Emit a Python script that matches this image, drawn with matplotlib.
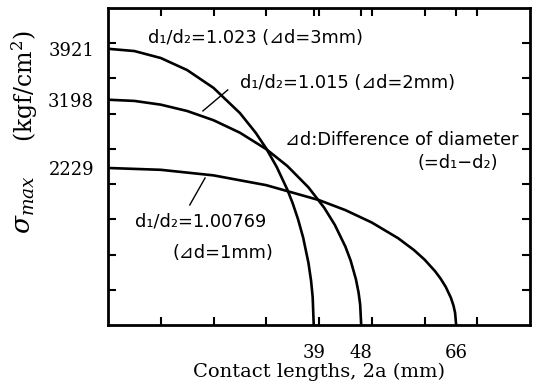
import matplotlib
matplotlib.use("Agg")
import matplotlib.pyplot as plt

# ---- data (contact length mm, sigma kgf/cm2) ----
x_3mm = [0, 5, 10, 15, 20, 25, 28, 30, 32, 34, 35, 36, 37, 38, 38.5, 38.8, 39]
y_3mm = [3921, 3889, 3790, 3619, 3366, 3009, 2729, 2505, 2241, 1921, 1730, 1508, 1240, 882, 626, 397, 0]

x_2mm = [0, 5, 10, 15, 20, 25, 30, 34, 38, 41, 43, 45, 46, 47, 47.5, 47.8, 48]
y_2mm = [3198, 3181, 3128, 3038, 2907, 2730, 2496, 2257, 1954, 1663, 1421, 1113, 914, 649, 461, 292, 0]

x_1mm = [0, 10, 20, 30, 40, 45, 50, 55, 58, 60, 62, 63, 64, 65, 65.5, 65.8, 66]
y_1mm = [2229, 2203, 2124, 1985, 1773, 1631, 1455, 1232, 1064, 929, 764, 664, 545, 387, 274, 173, 0]

sigma_labels = [2229, 3198, 3921]
length_labels = [39, 48, 66]

plt.rcParams["mathtext.fontset"] = "dejavuserif"
SANS = ["DejaVu Sans", "Noto Sans CJK JP"]
SERIF = "DejaVu Serif"

fig = plt.figure(figsize=(5.38, 3.87), dpi=100)
ax = fig.add_axes([108 / 538, 62 / 387, 422 / 538, 317 / 387])

for xs, ys in [(x_3mm, y_3mm), (x_2mm, y_2mm), (x_1mm, y_1mm)]:
    ax.plot(xs, ys, color="black", lw=1.9, solid_capstyle="butt")

ax.set_xlim(0, 80)
ax.set_ylim(0, 4500)

# major ticks: unlabeled, inward, both sides
ax.set_xticks(range(10, 80, 10))
ax.set_yticks(range(500, 4500, 500))
ax.set_xticklabels([])
ax.set_yticklabels([])
ax.tick_params(which="major", direction="in", length=6, width=1.5,
               top=True, right=True)

# minor ticks carry the labelled values
ax.set_xticks(length_labels, minor=True)
ax.set_xticklabels([str(v) for v in length_labels], minor=True)
ax.set_yticks(sigma_labels, minor=True)
ax.set_yticklabels([str(v) for v in sigma_labels], minor=True)
ax.tick_params(axis="x", which="minor", direction="in", length=6, width=1.5,
               top=True, bottom=False, pad=14, labelsize=13)
ax.tick_params(axis="y", which="minor", length=0, pad=10, labelsize=13)
for lab in ax.get_xticklabels(minor=True) + ax.get_yticklabels(minor=True):
    lab.set_fontfamily(SERIF)

for sp in ax.spines.values():
    sp.set_linewidth(2.0)

ax.set_xlabel("Contact lengths, 2a (mm)", fontfamily=SERIF, fontsize=14, labelpad=0)
fig.text(24 / 538, 1 - 205 / 387, r"$\sigma_{max}$",
         rotation=90, ha="center", va="center", fontsize=19)
fig.text(25 / 538, 1 - 86 / 387, r"(kgf/cm$^2$)",
         rotation=90, ha="center", va="center", fontfamily=SERIF, fontsize=17)

# annotations
fs = 12.8
ax.text(7.6, 4075, "d₁/d₂=1.023 (⊿d=3mm)", family=SANS, fontsize=fs, va="center")
ax.text(25.0, 3436, "d₁/d₂=1.015 (⊿d=2mm)", family=SANS, fontsize=fs, va="center")
ax.plot([18.0, 22.7], [3039, 3337], color="black", lw=1.0)
ax.text(33.6, 2627, "⊿d:Difference of diameter", family=SANS, fontsize=fs, va="center")
ax.text(58.6, 2300, "(=d₁−d₂)", family=SANS, fontsize=fs, va="center")
ax.text(5.1, 1463, "d₁/d₂=1.00769", family=SANS, fontsize=fs, va="center")
ax.text(12.3, 1022, "(⊿d=1mm)", family=SANS, fontsize=fs, va="center")
ax.plot([15.5, 18.4], [1704, 2087], color="black", lw=1.0)

fig.savefig("out.png", dpi=100)
